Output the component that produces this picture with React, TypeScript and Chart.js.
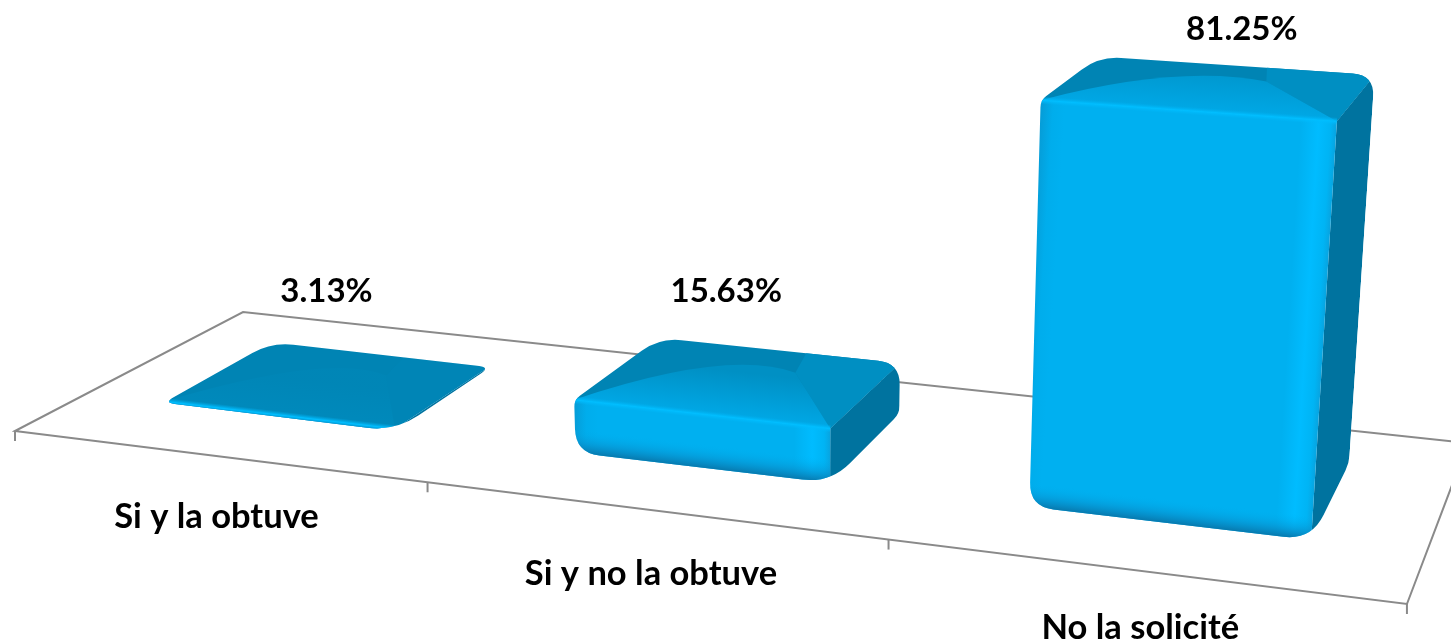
import React, { useEffect, useRef } from "react";
import { Chart, registerables } from "chart.js";

Chart.register(...registerables);

const categories = ["Si y la obtuve", "Si y no la obtuve", "No la solicité"];
const percentages = [3.13, 15.63, 81.25];

const BAR_BLUE = "#00B0F0";
const AXIS_GREY = "#8A8A8A";
const VALUE_FONT = 'bold 33px Lato, "Open Sans", sans-serif';
const TICK_FONT = 'bold 34.5px Lato, "Open Sans", sans-serif';

// Floor of the 3-D scene as a homography of the unit square (u across, v into the page).
const FLOOR = { a: 1189.2, b: 262.9, c: 15, d: 85.96, e: -74.2, f: 431, g: -0.1441, h: 0.1435 };
const V_FRONT = 0.28;
const V_BACK = 0.775;
const U_SHIFT = -0.0035;
const FORESHORTEN = 0.00069; // camera perspective on heights
const LEAN_CENTER = 800;
const LEAN = 1.2e-4;
const VALUE_LABEL_NUDGE = [[-8, -93], [-19, -90], [25, -58]];
const TICK_LABEL_NUDGE = [[-2, 61], [-6, 63], [-3, 57]];

type P = { x: number; y: number; d?: number; r?: number };

const floorAt = (u: number, v: number): P => {
  const F = FLOOR;
  const d = F.g * u + F.h * v + 1;
  return { x: (F.a * u + F.b * v + F.c) / d, y: (F.d * u + F.e * v + F.f) / d, d };
};

const lift = (p: P, H: number): P => {
  const px = (H / (1 - FORESHORTEN * H)) / (p.d as number);
  return { x: p.x + (p.x - LEAN_CENTER) * LEAN * px, y: p.y - px };
};

const poly = (ctx: CanvasRenderingContext2D, pts: P[]) => {
  ctx.beginPath();
  pts.forEach((p, i) => (i ? ctx.lineTo(p.x, p.y) : ctx.moveTo(p.x, p.y)));
  ctx.closePath();
};

const roundedPath = (ctx: CanvasRenderingContext2D, input: P[], mergedRadius: number) => {
  // merge vertices that nearly coincide (flat bars)
  const pts: P[] = [];
  input.forEach((p) => {
    const q = pts[pts.length - 1];
    if (q && Math.hypot(q.x - p.x, q.y - p.y) < 10) {
      q.x = (q.x + p.x) / 2;
      q.y = (q.y + p.y) / 2;
      q.r = mergedRadius;
    } else pts.push({ ...p });
  });
  if (pts.length > 2) {
    const q = pts[pts.length - 1], p = pts[0];
    if (Math.hypot(q.x - p.x, q.y - p.y) < 10) {
      p.x = (q.x + p.x) / 2;
      p.y = (q.y + p.y) / 2;
      p.r = mergedRadius;
      pts.pop();
    }
  }
  const n = pts.length;
  ctx.beginPath();
  for (let i = 0; i < n; i++) {
    const c = pts[i], a = pts[(i + n - 1) % n], b = pts[(i + 1) % n];
    const da = Math.hypot(a.x - c.x, a.y - c.y), db = Math.hypot(b.x - c.x, b.y - c.y);
    const ta = Math.min(c.r || 0, da / 2) / da, tb = Math.min(c.r || 0, db / 2) / db;
    const s = { x: c.x + (a.x - c.x) * ta, y: c.y + (a.y - c.y) * ta };
    const e = { x: c.x + (b.x - c.x) * tb, y: c.y + (b.y - c.y) * tb };
    if (i === 0) ctx.moveTo(s.x, s.y);
    else ctx.lineTo(s.x, s.y);
    ctx.quadraticCurveTo(c.x, c.y, e.x, e.y);
  }
  ctx.closePath();
};

const normalBand = (ctx: CanvasRenderingContext2D, a: P, b: P, depth: number) => {
  const mx = (a.x + b.x) / 2, my = (a.y + b.y) / 2;
  const dx = b.x - a.x, dy = b.y - a.y, l = Math.hypot(dx, dy);
  const nx = dy / l, ny = -dx / l; // points up for a left-to-right edge
  return ctx.createLinearGradient(mx, my, mx + nx * depth, my + ny * depth);
};

const drawBar = (ctx: CanvasRenderingContext2D, u0: number, u1: number, H: number) => {
  const at = (a: number, b: number, hh: number) =>
    lift(floorAt(u0 + (u1 - u0) * a, V_FRONT + (V_BACK - V_FRONT) * b), hh);
  const bfl = at(0, 0, 0), bfr = at(1, 0, 0), bbr = at(1, 1, 0);
  const tfl = at(0, 0, H), tfr = at(1, 0, H), tbr = at(1, 1, H), tbl = at(0, 1, H);
  const apex = at(0.66, 0.7, H), mid = at(0.3, 0.95, H), backJoin = at(0.58, 1.25, H);
  const tall = Math.min(1, H / 40);

  ctx.save();
  roundedPath(ctx, [
    { ...bfl, r: 24 }, { ...bfr, r: 28 }, { ...bbr, r: 8 },
    { ...tbr, r: 22 }, { ...tbl, r: 22 }, { ...tfl, r: 7 },
  ], 11);
  ctx.clip();

  // side
  poly(ctx, [tfr, tbr, bbr, { x: bbr.x, y: bbr.y + 60 }, { x: bfr.x, y: bfr.y + 20 }, bfr]);
  ctx.fillStyle = "#00739F";
  ctx.fill();

  // front
  poly(ctx, [tfl, tfr, bfr, { x: bfr.x, y: bfr.y + 30 }, { x: bfl.x - 20, y: bfl.y + 30 }, { x: bfl.x - 20, y: bfl.y }, { x: tfl.x - 20, y: tfl.y }]);
  const wx = tfr.x - tfl.x + 12;
  // the bands follow the leaning front-right edge
  const ex = tfr.x - bfr.x, ey = tfr.y - bfr.y, el = Math.hypot(ex, ey) || 1;
  const nx = -ey / el, ny = ex / el;
  const gx = ctx.createLinearGradient(tfr.x - nx * wx, tfr.y - ny * wx, tfr.x, tfr.y);
  gx.addColorStop(0, "#0B8CC2");
  gx.addColorStop(24 / wx, "#00ADEC");
  gx.addColorStop(36 / wx, BAR_BLUE);
  gx.addColorStop(1 - 36 / wx, BAR_BLUE);
  gx.addColorStop(1 - 18 / wx, "#00BCFF");
  gx.addColorStop(1 - 6 / wx, "#00B4F4");
  gx.addColorStop(1, "#08A4E0");
  ctx.fillStyle = gx;
  ctx.fill();
  const shade = normalBand(ctx, bfl, bfr, 24);
  shade.addColorStop(0, "rgba(8,118,170,0.95)");
  shade.addColorStop(0.45, "rgba(8,140,200,0.45)");
  shade.addColorStop(1, "rgba(0,176,240,0)");
  ctx.fillStyle = shade;
  ctx.fill();

  // top
  poly(ctx, [tfl, tfr, tbr, { x: tbr.x, y: tbr.y - 20 }, { x: tbl.x, y: tbl.y - 20 }, tbl, { x: tfl.x - 20, y: tfl.y }]);
  ctx.fillStyle = "#0084B4";
  ctx.fill();
  ctx.globalAlpha = tall * 0.9 + 0.1;
  poly(ctx, [tfr, tbr, { x: tbr.x + 20, y: tbr.y - 20 }, backJoin, apex]);
  ctx.fillStyle = "#008FC2";
  ctx.fill();
  ctx.beginPath();
  ctx.moveTo(tfl.x, tfl.y);
  ctx.quadraticCurveTo(mid.x, mid.y, apex.x, apex.y);
  ctx.lineTo(tfr.x, tfr.y);
  ctx.closePath();
  const gt = normalBand(ctx, tfl, tfr, Math.max(24, Math.hypot(apex.x - tfr.x, apex.y - tfr.y) * 0.7));
  gt.addColorStop(0, "#00A8E6");
  gt.addColorStop(1, "#0090C4");
  ctx.fillStyle = gt;
  ctx.fill();
  ctx.globalAlpha = 1;

  // highlight along the front top edge
  const hl = normalBand(ctx, { x: tfl.x, y: tfl.y + 4 }, { x: tfr.x, y: tfr.y + 4 }, 8);
  hl.addColorStop(0, "rgba(0,184,250,0)");
  hl.addColorStop(0.5, "rgba(0,190,255,1)");
  hl.addColorStop(1, "rgba(0,176,240,0)");
  ctx.strokeStyle = hl;
  ctx.lineWidth = 8;
  ctx.beginPath();
  ctx.moveTo(tfl.x, tfl.y);
  ctx.lineTo(tfr.x, tfr.y);
  ctx.stroke();
  ctx.restore();
};

const scene3d = {
  id: "scene3d",
  beforeDatasetsDraw(chart: any) {
    const ctx: CanvasRenderingContext2D = chart.ctx;
    const n = chart.data.labels.length;
    const fl = floorAt(0, 0), fr = floorAt(1, 0), br = floorAt(1, 1), bl = floorAt(0, 1);
    ctx.save();
    ctx.strokeStyle = AXIS_GREY;
    ctx.lineWidth = 2;
    poly(ctx, [fl, fr, br, bl]);
    ctx.stroke();
    for (let i = 0; i <= n; i++) {
      const p = floorAt(i === 0 || i === n ? i / n : i / n + U_SHIFT, 0);
      ctx.beginPath();
      ctx.moveTo(p.x, p.y);
      ctx.lineTo(p.x, p.y + 10);
      ctx.stroke();
    }
    ctx.restore();
  },
  // the library's own flat rectangles are replaced by the projected boxes
  beforeDatasetDraw() {
    return false;
  },
  afterDatasetsDraw(chart: any) {
    const ctx: CanvasRenderingContext2D = chart.ctx;
    const area = chart.chartArea;
    const bars = chart.getDatasetMeta(0).data;
    const floorPixel = chart.scales.y.getPixelForValue(chart.scales.y.min);
    bars.forEach((el: any) => {
      const u0 = (el.x - el.width / 2 - area.left) / area.width + U_SHIFT;
      const u1 = (el.x + el.width / 2 - area.left) / area.width + U_SHIFT;
      drawBar(ctx, u0, u1, floorPixel - el.y);
    });
    ctx.save();
    ctx.fillStyle = "#000000";
    ctx.textAlign = "center";
    ctx.textBaseline = "middle";
    bars.forEach((el: any, i: number) => {
      const u = (el.x - area.left) / area.width;
      const top = lift(floorAt(u, (V_FRONT + V_BACK) / 2), floorPixel - el.y);
      const [dx, dy] = VALUE_LABEL_NUDGE[i];
      ctx.font = VALUE_FONT;
      ctx.fillText(chart.data.datasets[0].data[i].toFixed(2) + "%", top.x + dx, top.y + dy);
      const foot = floorAt(u, 0);
      const [tx, ty] = TICK_LABEL_NUDGE[i];
      ctx.font = TICK_FONT;
      ctx.fillText(chart.data.labels[i], foot.x + tx, foot.y + ty);
    });
    ctx.restore();
  },
};

export default function App() {
  const ref = useRef<HTMLCanvasElement>(null);
  useEffect(() => {
    document.body.style.margin = "0";
    const chart = new Chart(ref.current as HTMLCanvasElement, {
      type: "bar",
      data: {
        labels: categories,
        datasets: [
          {
            data: percentages,
            backgroundColor: BAR_BLUE,
            barPercentage: 0.573,
            categoryPercentage: 1,
          },
        ],
      },
      options: {
        animation: false,
        responsive: false,
        devicePixelRatio: 1,
        layout: { padding: { left: 15, right: 44, top: 97, bottom: 97 } },
        plugins: { legend: { display: false }, tooltip: { enabled: false } },
        scales: {
          x: { display: false },
          y: { display: false, min: 2.5, max: 120 },
        },
      },
      plugins: [scene3d],
    } as any);
    return () => chart.destroy();
  }, []);
  return <canvas ref={ref} width={1451} height={643} style={{ display: "block" }} />;
}
